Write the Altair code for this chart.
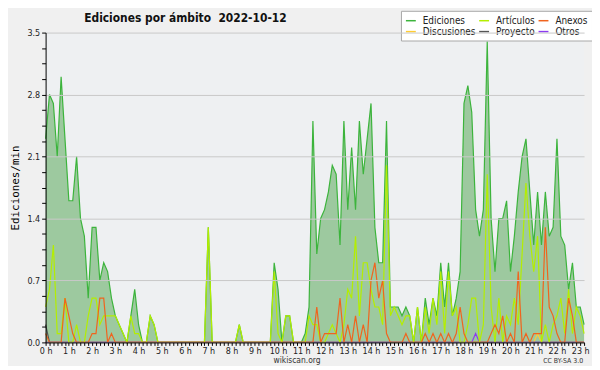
import json
import altair as alt
import pandas as pd

# ---------------- data (10-minute steps, edits per minute) ----------------
title_text = "Ediciones por ámbito\u00a0\u00a02022-10-12"
y_title = "Ediciones/min"
hour_labels = [f"{h} h" for h in range(24)]
y_label_values = [0.0, 0.7, 1.4, 2.1, 2.8, 3.5]

# legend order gives rows (Ediciones, Artículos, Anexos) / (Discusiones, Proyecto, Otros)
series_names = ["Ediciones", "Discusiones", "Artículos", "Proyecto", "Anexos", "Otros"]
series_colors = ["#3cb43c", "#ffcc33", "#b4ee00", "#555555", "#f0641e", "#8c3cf0"]

ediciones = [
    2.3, 2.8, 2.7, 2.1, 3.0, 2.3, 1.6, 1.6, 2.1, 1.4, 1.2, 0.5,
    1.3, 1.3, 0.7, 0.9, 0.8, 0.5, 0.3, 0.2, 0.1, 0.0, 0.3, 0.6,
    0.2, 0.0, 0.0, 0.3, 0.2, 0.0, 0.0, 0.0, 0.0, 0.0, 0.0, 0.0,
    0.0, 0.0, 0.0, 0.0, 0.0, 0.0, 1.3, 0.0, 0.0, 0.0, 0.0, 0.0,
    0.0, 0.0, 0.2, 0.0, 0.0, 0.0, 0.0, 0.0, 0.0, 0.0, 0.0, 0.9,
    0.6, 0.0, 0.3, 0.3, 0.0, 0.0, 0.0, 0.1, 0.4, 2.5, 1.0, 1.4,
    1.5, 1.7, 2.0, 1.9, 1.1, 2.5, 1.5, 2.2, 1.5, 2.5, 1.9, 2.3,
    2.7, 1.3, 0.9, 0.9, 2.5, 0.4, 0.4, 0.4, 0.3, 0.4, 0.3, 0.0,
    0.4, 0.0, 0.5, 0.2, 0.5, 0.3, 0.9, 0.4, 0.9, 0.3, 0.5, 0.8,
    2.7, 2.9, 2.6, 1.5, 1.2, 1.5, 3.4, 1.4, 0.8, 1.4, 1.4, 1.6,
    0.8, 1.2, 1.7, 2.1, 2.3, 1.7, 1.1, 1.7, 1.1, 1.7, 1.2, 1.3,
    2.3, 1.2, 1.1, 0.6, 0.9, 0.4, 0.4, 0.2,
]
articulos = [
    0.4, 0.6, 1.1, 0.1, 0.1, 0.5, 0.0, 0.0, 0.2, 0.0, 0.0, 0.3,
    0.5, 0.5, 0.2, 0.3, 0.3, 0.3, 0.3, 0.2, 0.1, 0.0, 0.3, 0.1,
    0.1, 0.0, 0.0, 0.3, 0.2, 0.0, 0.0, 0.0, 0.0, 0.0, 0.0, 0.0,
    0.0, 0.0, 0.0, 0.0, 0.0, 0.0, 1.3, 0.0, 0.0, 0.0, 0.0, 0.0,
    0.0, 0.0, 0.2, 0.0, 0.0, 0.0, 0.0, 0.0, 0.0, 0.0, 0.0, 0.8,
    0.1, 0.0, 0.3, 0.3, 0.0, 0.0, 0.0, 0.0, 0.3, 0.2, 0.2, 0.0,
    0.0, 0.1, 0.2, 0.1, 0.0, 0.2, 0.6, 0.5, 1.2, 0.3, 0.9, 0.9,
    0.6, 0.4, 0.4, 0.2, 2.0, 0.3, 0.4, 0.3, 0.2, 0.3, 0.3, 0.0,
    0.4, 0.0, 0.4, 0.1, 0.5, 0.2, 0.8, 0.1, 0.8, 0.3, 0.4, 0.0,
    0.0, 0.2, 0.5, 0.5, 0.0, 0.2, 1.9, 0.4, 0.0, 0.5, 0.0, 0.3,
    0.2, 0.5, 0.2, 1.0, 1.8, 1.2, 0.8, 1.2, 0.0, 0.2, 0.0, 0.2,
    0.3, 0.5, 0.1, 0.6, 0.1, 0.4, 0.3, 0.1,
]
anexos = [
    0.1, 0.0, 0.0, 0.0, 0.0, 0.5, 0.3, 0.1, 0.0, 0.0, 0.0, 0.0,
    0.1, 0.1, 0.5, 0.5, 0.0, 0.1, 0.0, 0.0, 0.0, 0.0, 0.0, 0.0,
    0.0, 0.0, 0.0, 0.0, 0.0, 0.0, 0.0, 0.0, 0.0, 0.0, 0.0, 0.0,
    0.0, 0.0, 0.0, 0.0, 0.0, 0.0, 0.0, 0.0, 0.0, 0.0, 0.0, 0.0,
    0.0, 0.0, 0.0, 0.0, 0.0, 0.0, 0.0, 0.0, 0.0, 0.0, 0.0, 0.0,
    0.0, 0.0, 0.0, 0.0, 0.0, 0.0, 0.0, 0.0, 0.0, 0.0, 0.4, 0.0,
    0.1, 0.1, 0.1, 0.1, 0.5, 0.0, 0.2, 0.0, 0.3, 0.0, 0.2, 0.0,
    0.7, 0.9, 0.5, 0.7, 0.1, 0.0, 0.0, 0.0, 0.0, 0.1, 0.0, 0.0,
    0.0, 0.0, 0.1, 0.0, 0.1, 0.0, 0.1, 0.0, 0.1, 0.0, 0.1, 0.4,
    0.1, 0.0, 0.0, 0.0, 0.0, 0.0, 0.0, 0.1, 0.2, 0.1, 0.3, 0.0,
    0.1, 0.0, 0.8, 0.0, 0.1, 0.0, 0.1, 0.1, 0.1, 1.3, 0.4, 0.3,
    0.1, 0.0, 0.0, 0.5, 0.3, 0.0, 0.0, 0.0,
]
# sparse series: {step index: value}, zero elsewhere
discusiones_nz = {127: 0.1}
proyecto_nz = {0: 0.2}
otros_nz = {111: 0.1}

n = len(ediciones)
discusiones = [discusiones_nz.get(i, 0.0) for i in range(n)]
proyecto = [proyecto_nz.get(i, 0.0) for i in range(n)]
otros = [otros_nz.get(i, 0.0) for i in range(n)]
hours = [i / 6 for i in range(n)]

series_values = {
    "Ediciones": ediciones, "Artículos": articulos, "Anexos": anexos,
    "Discusiones": discusiones, "Proyecto": proyecto, "Otros": otros,
}
draw_order = ["Ediciones", "Discusiones", "Proyecto", "Otros", "Artículos", "Anexos"]
rows = []
for k, name in enumerate(draw_order):
    for i, v in enumerate(series_values[name]):
        rows.append({"t": hours[i], "serie": name, "v": v, "z": k})
df = pd.DataFrame(rows)

# ---------------- chart ----------------
W, H = 544, 313
FONT = "DejaVu Sans Condensed, DejaVu Sans"

xscale = alt.Scale(domain=[0, (n - 1) / 6], nice=False, zero=False)
yscale = alt.Scale(domain=[0, 3.5], nice=False)

y_tick_values = [round(k * 0.175, 3) for k in range(21)]
is_major = f"indexof({json.dumps(y_label_values)}, datum.value) >= 0"
is_hour = "abs(datum.value - round(datum.value)) < 0.001"

x_axis = alt.Axis(
    values=hours, tickCount=500,
    labelExpr=f"{is_hour} ? {json.dumps(hour_labels)}[round(datum.value)] : ''",
    grid=False, tickSize=3, tickColor="#000", domainColor="#000",
    labelFont=FONT, labelFontSize=9, labelColor="#222", labelPadding=1,
    labelOverlap=False, labelFlush=False, title=None, zindex=1,
)
y_axis = alt.Axis(
    values=y_tick_values, tickCount=500,
    labelExpr=f"{is_major} ? format(datum.value, '.1f') : ''",
    grid=True, gridColor="#c8c8c8",
    gridOpacity={"condition": {"test": is_major, "value": 1}, "value": 0},
    tickSize=4, tickColor="#000", domainColor="#000",
    labelFont=FONT, labelFontSize=9, labelColor="#222", labelPadding=2,
    labelOverlap=False, labelFlush=False,
    title=y_title, titleFont="DejaVu Sans Mono", titleFontSize=11,
    titleFontWeight="normal", titleColor="#000", titlePadding=7, zindex=1,
)

color_enc = alt.Color(
    "serie:N",
    scale=alt.Scale(domain=series_names, range=series_colors),
    legend=alt.Legend(
        orient="none", legendX=359, legendY=-22, columns=3, title=None,
        symbolType="stroke", symbolSize=100, symbolStrokeWidth=1.5,
        labelFont=FONT, labelFontSize=10, labelColor="#222", labelOffset=6,
        columnPadding=0, rowPadding=0, padding=4,
        fillColor="#ffffff", strokeColor="#a8a8a8",
    ),
)

base = alt.Chart(df)
area = base.transform_filter(alt.datum.serie == "Ediciones").mark_area(
    color="#3a9a3a", opacity=0.45
).encode(
    x=alt.X("t:Q", scale=xscale, axis=x_axis),
    y=alt.Y("v:Q", scale=yscale, axis=y_axis),
)
line_e = base.transform_filter(alt.datum.serie == "Ediciones").mark_line(
    strokeWidth=1.2
).encode(x="t:Q", y="v:Q", color=color_enc)
line_o = base.transform_filter(alt.datum.serie != "Ediciones").mark_line(
    strokeWidth=1.2
).encode(x="t:Q", y="v:Q", color=color_enc, order="z:Q")

title_mark = alt.Chart(pd.DataFrame({"s": [title_text]})).mark_text(
    align="left", baseline="middle", font=FONT, fontSize=12, fontWeight="bold", color="#111"
).encode(x=alt.value(39), y=alt.value(-15), text="s:N")
site_mark = alt.Chart(pd.DataFrame({"s": ["wikiscan.org"]})).mark_text(
    align="center", baseline="middle", font=FONT, fontSize=8.5, color="#333"
).encode(x=alt.value(254), y=alt.value(331), text="s:N")
cc_mark = alt.Chart(pd.DataFrame({"s": ["CC BY-SA 3.0"]})).mark_text(
    align="right", baseline="middle", font=FONT, fontSize=7, color="#333"
).encode(x=alt.value(543), y=alt.value(332), text="s:N")

chart = alt.layer(area, line_e, line_o, title_mark, site_mark, cc_mark).properties(
    width=W, height=H,
    padding={"left": 38, "top": 23, "right": 8, "bottom": 22},
    autosize=alt.AutoSizeParams(type="none"),
    background="#f0f0f0",
).configure_view(fill="#eef0f2", strokeWidth=0)

chart.save("out.html", embed_options={"renderer": "svg", "actions": False})
